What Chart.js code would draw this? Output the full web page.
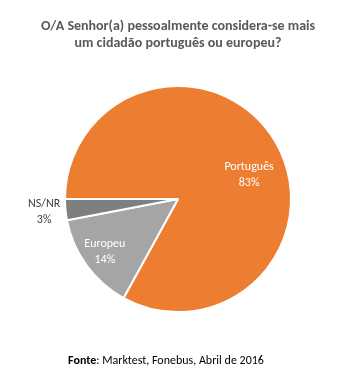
<!DOCTYPE html>
<html>
<head>
<meta charset="utf-8">
<script src="https://cdn.jsdelivr.net/npm/chart.js@4"></script>
<style>
  html, body { margin: 0; padding: 0; background: #fff; }
  #wrap { width: 358px; height: 386px; }
</style>
</head>
<body>
<div id="wrap"><canvas id="pie"></canvas></div>
<script>
    "use strict";

    var categories = ["Português", "Europeu", "NS/NR"];
    var values = [83, 14, 3];
    var colors = ["#ED7D31", "#A5A5A5", "#7F7F7F"];
    var titleLines = ["O/A Senhor(a) pessoalmente considera-se mais", "um cidadão português ou europeu?"];
    var sourceBold = "Fonte";
    var sourceRest = ": Marktest, Fonebus, Abril de 2016";

    var FONT = "Carlito, Lato, 'Open Sans', sans-serif";

    // label placement per slice: radial fraction, pixel nudge, text colour
    var labelPos = [
        { r: 0.7, dx: 3, dy: 16, color: "#ffffff" },
        { r: 0.8, dx: 0, dy: 0, color: "#ffffff" },
        { r: 1.19, dx: 0, dy: 0, color: "#404040" }
    ];

    // Texts: title, slice labels, source
    var textPlugin = {
        id: "texts",
        afterDatasetsDraw: function (chart) {
            var ctx = chart.ctx;
            var meta = chart.getDatasetMeta(0);
            ctx.save();
            ctx.textAlign = "center";
            ctx.textBaseline = "middle";

            ctx.fillStyle = "#595959";
            ctx.font = "bold 14px " + FONT;
            ctx.fillText(titleLines[0], 178, 26);
            ctx.fillText(titleLines[1], 178, 43);

            ctx.font = "12px " + FONT;
            meta.data.forEach(function (arc, i) {
                var p = arc.getProps(["x", "y", "startAngle", "endAngle", "outerRadius"], true);
                var mid = (p.startAngle + p.endAngle) / 2;
                var rr = p.outerRadius * labelPos[i].r;
                var x = p.x + Math.cos(mid) * rr + labelPos[i].dx;
                var y = p.y + Math.sin(mid) * rr + labelPos[i].dy;
                ctx.fillStyle = labelPos[i].color;
                ctx.fillText(categories[i], x, y - 8);
                ctx.fillText(values[i] + "%", x, y + 8);
            });

            ctx.font = "bold 12px " + FONT;
            var w1 = ctx.measureText(sourceBold).width;
            ctx.font = "12px " + FONT;
            var w2 = ctx.measureText(sourceRest).width;
            var x0 = 166 - (w1 + w2) / 2;
            ctx.textAlign = "left";
            ctx.fillStyle = "#000000";
            ctx.font = "bold 12px " + FONT;
            ctx.fillText(sourceBold, x0, 361);
            ctx.font = "12px " + FONT;
            ctx.fillText(sourceRest, x0 + w1, 361);
            ctx.restore();
        }
    };

    var ctx1 = document.getElementById("pie").getContext("2d");
    var myChart = new Chart(ctx1, {
        type: "pie",
        data: {
            labels: categories,
            datasets: [
                {
                    data: values,
                    backgroundColor: colors,
                    borderColor: "#ffffff",
                    borderWidth: 2
                }
            ]
        },
        options: {
            responsive: true,
            maintainAspectRatio: false,
            animation: false,
            rotation: 270,
            layout: { padding: { top: 85, bottom: 73, left: 64, right: 66 } },
            plugins: {
                legend: { display: false },
                tooltip: { enabled: false },
                title: { display: false }
            }
        },
        plugins: [textPlugin]
    });
</script>
</body>
</html>
